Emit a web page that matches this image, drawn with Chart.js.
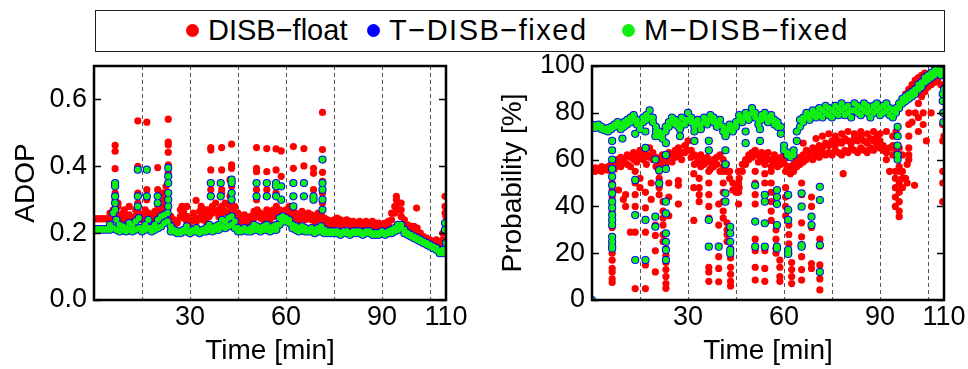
<!DOCTYPE html>
<html><head><meta charset="utf-8">
<script src="https://cdn.jsdelivr.net/npm/chart.js@4.4.1/dist/chart.umd.min.js"></script>
<style>
html,body{margin:0;padding:0;background:#fff;width:968px;height:369px;overflow:hidden;font-family:'Liberation Sans',Arial,sans-serif;}
#legend{position:absolute;left:95px;top:10px;width:850px;height:42px;border:1.5px solid #222;box-sizing:border-box;font-size:29px;color:#000;}
.item{position:absolute;top:0;height:39px;display:flex;align-items:center;white-space:nowrap;}
.dot{width:13px;height:13px;border-radius:50%;margin-right:9px;}
#cL{position:absolute;left:0;top:0;}
#cR{position:absolute;left:480px;top:0;}
</style></head><body>
<div id="legend"></div>
<canvas id="cL" width="480" height="369"></canvas>
<canvas id="cR" width="488" height="369"></canvas>
<script>
// ---------------- DATA ----------------
const seriesNames = ['DISB\u2212float', 'T\u2212DISB\u2212fixed', 'M\u2212DISB\u2212fixed'];
const minutes = [0,1,2,3,4,5,6,7,8,9,10,11,12,13,14,15,16,17,18,19,20,21,22,23,24,25,26,27,28,29,30,31,32,33,34,35,36,37,38,39,40,41,42,43,44,45,46,47,48,49,50,51,52,53,54,55,56,57,58,59,60,61,62,63,64,65,66,67,68,69,70,71,72,73,74,75,76,77,78,79,80,81,82,83,84,85,86,87,88,89,90,91,92,93,94,95,96,97,98,99,100,101,102,103,104,105,106,107,108,109,110];
const gridMinutes = [15,30,45,60,75,90,105];
const xTickLabels = [30,60,90,110];
const adopTicks = [0,0.2,0.4,0.6];
const probTicks = [0,20,40,60,80,100];

// ADOP panel – DISB-float band (two rows, per minute)
const adopFloatBand = [0.243,0.243,0.243,0.243,0.243,0.26,0.27,0.26,0.25,0.26,0.25,0.255,0.245,0.27,0.26,0.255,0.27,0.26,0.25,0.265,0.28,0.29,0.30,0.29,0.25,0.24,0.235,0.27,0.265,0.25,0.24,0.26,0.245,0.265,0.26,0.25,0.27,0.28,0.29,0.27,0.28,0.29,0.285,0.30,0.28,0.26,0.25,0.255,0.245,0.25,0.265,0.27,0.26,0.255,0.27,0.26,0.27,0.28,0.27,0.265,0.27,0.28,0.27,0.26,0.255,0.265,0.255,0.26,0.255,0.25,0.26,0.255,0.245,0.24,0.235,0.24,0.245,0.24,0.235,0.24,0.235,0.235,0.23,0.235,0.23,0.235,0.23,0.235,0.23,0.23,0.225,0.23,0.235,0.26,0.28,0.29,0.27,0.24,0.225,0.22,0.22,0.215,0.2,0.19,0.185,0.18,0.175,0.18,0.165,0.2,0.25];
const adopFloatBand2 = [0.243,0.243,0.243,0.243,0.243,0.245,0.25,0.24,0.235,0.24,0.235,0.24,0.235,0.25,0.245,0.24,0.25,0.245,0.235,0.25,0.26,0.27,0.28,0.27,0.235,0.225,0.23,0.25,0.245,0.235,0.23,0.24,0.235,0.245,0.24,0.235,0.25,0.26,0.265,0.25,0.26,0.265,0.26,0.275,0.26,0.24,0.235,0.24,0.23,0.235,0.245,0.25,0.245,0.24,0.25,0.24,0.25,0.255,0.25,0.26,0.26,0.265,0.25,0.245,0.24,0.245,0.24,0.245,0.24,0.235,0.245,0.24,0.23,0.225,0.225,0.225,0.23,0.225,0.225,0.23,0.225,0.22,0.22,0.225,0.22,0.22,0.22,0.225,0.22,0.215,0.215,0.22,0.225,0.24,0.26,0.27,0.25,0.225,0.21,0.21,0.205,0.2,0.19,0.18,0.175,0.17,0.165,0.165,0.155,0.18,0.22];
// ADOP panel – fixed solutions band (two rows, per minute)
const adopFixedBand = [0.211,0.211,0.211,0.211,0.211,0.225,0.26,0.24,0.225,0.22,0.215,0.23,0.22,0.235,0.245,0.215,0.225,0.24,0.215,0.225,0.24,0.25,0.255,0.26,0.22,0.21,0.205,0.205,0.21,0.22,0.205,0.21,0.215,0.205,0.21,0.215,0.225,0.215,0.22,0.225,0.24,0.235,0.245,0.25,0.235,0.215,0.21,0.215,0.21,0.215,0.225,0.22,0.215,0.22,0.225,0.215,0.22,0.225,0.245,0.25,0.245,0.24,0.225,0.22,0.215,0.22,0.215,0.21,0.215,0.21,0.215,0.22,0.21,0.205,0.205,0.205,0.205,0.2,0.205,0.205,0.2,0.205,0.205,0.205,0.2,0.205,0.205,0.2,0.2,0.2,0.205,0.2,0.205,0.21,0.215,0.225,0.225,0.21,0.2,0.195,0.19,0.185,0.18,0.175,0.17,0.165,0.16,0.155,0.145,0.15,0.17];
const adopFixedBand2 = [0.211,0.211,0.211,0.211,0.211,0.21,0.215,0.21,0.205,0.21,0.205,0.21,0.205,0.21,0.215,0.205,0.21,0.215,0.205,0.21,0.215,0.22,0.23,0.235,0.205,0.205,0.2,0.2,0.205,0.205,0.2,0.205,0.205,0.2,0.205,0.205,0.21,0.205,0.21,0.21,0.22,0.215,0.22,0.225,0.215,0.205,0.205,0.21,0.205,0.205,0.21,0.21,0.205,0.21,0.21,0.205,0.21,0.21,0.225,0.235,0.235,0.23,0.215,0.21,0.205,0.21,0.205,0.205,0.205,0.2,0.205,0.205,0.2,0.2,0.2,0.2,0.2,0.195,0.2,0.2,0.195,0.2,0.2,0.2,0.195,0.2,0.2,0.195,0.195,0.195,0.2,0.195,0.2,0.2,0.205,0.21,0.215,0.2,0.195,0.19,0.185,0.18,0.175,0.17,0.165,0.16,0.155,0.15,0.14,0.14,0.15];
// ADOP panel – isolated epochs [minute, [values]]
const adopFloatSpikes = [[6.6,[0.463,0.445,0.393,0.32,0.30]],[7.5,[0.28,0.29]],[9.5,[0.27]],[11,[0.28]],[13.7,[0.536,0.40,0.32,0.29]],[16.5,[0.532,0.33,0.30]],[19.9,[0.396,0.33,0.31]],[21.5,[0.32]],[22.5,[0.34,0.31]],[23.2,[0.541,0.472,0.464,0.442,0.404,0.38,0.35]],[27.5,[0.28]],[29,[0.28]],[31.9,[0.298]],[33.5,[0.28]],[35,[0.27]],[36.5,[0.456,0.449,0.389,0.33,0.31]],[39.9,[0.456,0.389,0.33,0.32]],[42.5,[0.36,0.31]],[43,[0.466,0.404,0.394,0.34,0.32]],[50.8,[0.456,0.394,0.384,0.33,0.30]],[54,[0.453,0.384,0.33,0.31]],[56.9,[0.452,0.389,0.34,0.32]],[58.5,[0.446,0.37,0.30]],[62.3,[0.459,0.394,0.35,0.31]],[65.6,[0.453,0.401,0.35,0.31]],[68.6,[0.394,0.379,0.33,0.30]],[71.4,[0.561,0.45,0.382,0.355,0.32,0.29]],[94.5,[0.30,0.31]],[96,[0.29]],[100.8,[0.275]],[109.7,[0.31,0.28,0.26]]];
const adopFixedSpikes = [[6.6,[0.35,0.34,0.31,0.29,0.27]],[13.7,[0.39,0.31,0.28]],[16.5,[0.39,0.31]],[19.9,[0.31,0.29]],[23.2,[0.395,0.37,0.35,0.32,0.30,0.28]],[36.5,[0.35,0.31]],[39.6,[0.35,0.31]],[43,[0.36,0.35,0.32,0.30]],[50.8,[0.35,0.31]],[54,[0.35,0.31]],[56.9,[0.35,0.34,0.31]],[58.5,[0.34,0.30]],[62.3,[0.35,0.31,0.28]],[65.6,[0.35,0.31]],[68.6,[0.31,0.30]],[71.4,[0.42,0.35,0.33,0.30,0.27]],[109.7,[0.23,0.21]]];

// Probability panel – bands (per minute)
const probFloatBand = [56,56.5,56,57,56.5,57,58,59,60,61,60,62,61,63,62,64,63,62,65,63,61,60,62,61,63,62,64,65,63,66,68,64,62,61,62,60,61,59,60,61,62,60,58,55,50,48,52,58,60,62,63,64,62,63,61,63,60,62,60,61,62,61,57,58,60,61,62,64,63,65,64,66,65,67,66,68,66,68,67,69,68,67,69,68,70,68,67,69,68,70,68,66,60,55,62,72,82,86,88,90,92,94,95,96,97,95,80];
const probFloatBand2 = [55,55,55.5,55,56,55.5,57,56,58,57,59,58,57,60,59,61,60,58,61,60,57,58,59,58,60,59,61,62,60,63,64,61,58,59,57,58,59,56,57,58,55,57,55,52,47,46,48,55,58,60,61,62,59,60,58,60,57,59,57,58,59,57,54,55,57,58,59,60,61,60,62,61,63,62,63,62,64,63,62,64,63,65,64,63,65,64,63,65,64,66,65,64,63,65,66,64,55,48,52,62,76,80,84,87,89,91,92,93,94,92,70];
const probFixedBand = [75,74.5,75,74,73,73.5,74,75,76,75,76,77,78,79,77,75,78,79,81,78,74,72,71,74,76,78,77,76,78,77,80,78,76,77,75,78,77,79,78,76,77,74,73,75,74,76,79,78,80,79,82,80,77,79,80,78,79,77,76,74,66,63,62,64,72,77,78,80,79,81,80,82,81,83,82,81,83,82,84,82,83,81,84,83,82,84,83,81,83,84,82,83,84,82,81,82,84,86,87,88,89,90,92,93,95,96,97,98,99,98,90];
const probFixedBand2 = [74,73.5,74,73,72.5,72,73,74,74.5,73,74,75,76,77,75,73,76,77,78,76,72,70,69,72,74,76,75,74,75,75,77,76,74,75,73,76,75,77,76,74,75,72,71,73,72,74,77,76,78,77,80,78,75,77,78,76,77,75,74,71,64,62,61,62,68,74,76,78,77,79,78,79,78,80,79,78,80,79,81,79,80,78,81,80,79,81,80,78,80,81,79,80,81,79,78,80,82,84,85,86,87,88,90,91,93,94,95,96,97,96,88];
const probFloatSpikes = [[6.3,[50,47,44,41,38,34,31,27,24,20,17,13.5,12,9,7.5]],[8.3,[47]],[9.8,[43]],[10.5,[45,40]],[12,[29]],[13.5,[55,50,45,40,29,4.9]],[15,[52,48]],[16.7,[46,39.4,29,15,4.9]],[18.5,[50,43]],[19.8,[32,27.6,21,12]],[21,[55,52,48,45]],[22.2,[42,38,35,32,28,25]],[23.1,[22,19,16,13,10,7,5]],[24,[50,44,36]],[27,[51,49,41]],[31.8,[54,48,34]],[33.5,[52,48,45,42]],[36.5,[55,50,45,40,35,14,12,8]],[39.6,[41,32,23,18.5,13.5,7.8]],[41,[55,50,46,42,38,35]],[42.2,[33,30,28,25]],[43.3,[22,18,14,11,8,6]],[45.8,[55,50,46,41]],[51,[55,50,45,41,26,21,14,8.5]],[54,[54,50,45,21,13.5,8]],[56,[55,50,46,42,38,34]],[57.5,[30,26,22,20]],[58.7,[17,14,10,8]],[60.5,[55,48,44,40,36]],[61.5,[32,28,24,20]],[62.4,[16,13,10,7]],[65.5,[50,45,40,33,27,18.5,13,8.5]],[66,[67]],[68.6,[44,40,31,15.6,13.5]],[70,[69]],[71.2,[26,23,15,9,4.3]],[72,[70]],[74,[71]],[76,[70]],[78,[71]],[78.5,[54]],[80,[72]],[82,[71]],[84,[72]],[86,[71]],[88,[72]],[90,[71]],[92,[72]],[94,[70]],[94.8,[55,52,48,44,40]],[96,[65,57,50,46,42,38,35.6]],[97,[62,55,52]],[98.5,[58,50]],[99,[80,75,70,65,60]],[100.8,[49]],[102,[78,72]],[103.5,[80,75]],[104.5,[68]],[109.6,[80,75,68,55,50,42]]];
const probFixedSpikes = [[0,[0]],[6.3,[68,64,60,56,52.7,49,45.6,42,39.4,36.4,34.2,32,27,24.9,22.8,22]],[9.5,[69]],[13.5,[71,51.3,36.3,17.1]],[16.7,[72,65,34.2,17.1]],[19.8,[70,60,35.6,31.3]],[21,[55.5,49.8]],[23.1,[67,62,56,42,37,28.5,24.9,21.4,17.1]],[27.5,[73,70]],[32,[72,68]],[36.5,[68,64,34.2,22.8]],[39.6,[22.8]],[41.7,[70,64,58,45.6,42]],[43.2,[31.3,28.5,24.9,21.4,19.9]],[48,[72,67]],[51,[49,33.5,22.8]],[52.5,[73,68]],[54,[44.9,42,32.8,22.8]],[57.8,[47,44,41,32,22.8,22]],[61.3,[44.9,38.5,34.2,21.4,19.7]],[65.5,[45.6,39.9,23.5,22.8]],[68.6,[35.6,32]],[71.2,[48.4,42.7,23.5,12]],[95.5,[74,70,66,62,60]],[109.6,[88,85]],[109.8,[80,76]]];

// ---------------- STYLE / BUILD ----------------
const FONT = "'Liberation Sans', Arial, Helvetica, sans-serif";
const COLORS = ['#ff0000', '#0000ff', '#11ee11'];
Chart.defaults.font.family = FONT;
Chart.defaults.font.size = 27;
Chart.defaults.color = '#000';

// legend (HTML text); item left edges relative to the legend box
const legendItemLeft = [90, 271, 526];
const legendLetterSpacing = ['0px', '1.5px', '1.5px'];
const lg = document.getElementById('legend');
seriesNames.forEach((n, i) => {
  const it = document.createElement('div'); it.className = 'item';
  it.style.left = legendItemLeft[i] + 'px';
  const d = document.createElement('span'); d.className = 'dot'; d.style.background = COLORS[i];
  const t = document.createElement('span'); t.textContent = n; t.style.letterSpacing = legendLetterSpacing[i];
  it.appendChild(d); it.appendChild(t); lg.appendChild(it);
});

function rows(times, vals) { return vals.map((v, i) => ({x: times[i], y: v})); }
function cols(list) { const out = []; list.forEach(([t, vs]) => vs.forEach(v => out.push({x: t, y: v}))); return out; }

const framePlugin = {
  id: 'frame',
  afterDatasetsDraw(chart) {
    const {ctx, chartArea: a, scales: {y}} = chart;
    ctx.save();
    ctx.strokeStyle = '#000';
    ctx.lineWidth = 1.5;
    y.ticks.forEach(t => {
      const py = Math.round(y.getPixelForValue(t.value)) + 0.5;
      ctx.beginPath(); ctx.moveTo(a.left, py); ctx.lineTo(a.left + 7, py); ctx.stroke();
      ctx.beginPath(); ctx.moveTo(a.right - 7, py); ctx.lineTo(a.right, py); ctx.stroke();
    });
    ctx.lineWidth = 2.5;
    ctx.strokeRect(a.left, a.top, a.right - a.left, a.bottom - a.top);
    ctx.restore();
  }
};

function build(canvasId, o) {
  const fixedData = rows(minutes, o.fixedBand).concat(rows(minutes, o.fixedBand2), cols(o.fixedSpikes));
  const floatData = rows(minutes, o.floatBand).concat(rows(minutes, o.floatBand2), cols(o.floatSpikes));
  return new Chart(document.getElementById(canvasId), {
    type: 'scatter',
    data: {
      datasets: [
        {label: seriesNames[2], data: fixedData, backgroundColor: COLORS[2], pointRadius: 3.1, pointBorderWidth: 0, order: 1},
        {label: seriesNames[1], data: fixedData, backgroundColor: COLORS[1], pointRadius: 4.1, pointBorderWidth: 0, order: 2},
        {label: seriesNames[0], data: floatData, backgroundColor: COLORS[0], pointRadius: 3.6, pointBorderWidth: 0, order: 3}
      ]
    },
    options: {
      responsive: false, animation: false, events: [],
      layout: {padding: o.padding},
      plugins: {legend: {display: false}, tooltip: {enabled: false}},
      scales: {
        x: {
          type: 'linear', min: 0, max: 110,
          afterBuildTicks: s => { s.ticks = [0].concat(gridMinutes, [110]).map(v => ({value: v})); },
          ticks: {autoSkip: false, maxRotation: 0, padding: 1, callback: v => xTickLabels.includes(v) ? String(v) : ''},
          grid: {drawTicks: false, lineWidth: 1, color: c => (c.tick && gridMinutes.includes(c.tick.value)) ? '#555' : 'rgba(0,0,0,0)'},
          border: {display: false, dash: [4, 3]},
          title: {display: true, text: 'Time [min]', font: {size: 28}, padding: {top: 0, bottom: 0}},
          afterFit: s => { s.height = 68; }
        },
        y: {
          min: o.yMin, max: o.yMax,
          afterBuildTicks: s => { s.ticks = o.yTicks.map(v => ({value: v})); },
          ticks: {padding: 7, callback: o.yFmt},
          grid: {display: false, drawTicks: false},
          border: {display: false},
          title: {display: true, text: o.yTitle, font: {size: 28}, padding: {top: 0, bottom: 0}},
          afterFit: s => { s.width = o.yWidth; }
        }
      }
    },
    plugins: [framePlugin]
  });
}

build('cL', {
  fixedBand: adopFixedBand, fixedBand2: adopFixedBand2, fixedSpikes: adopFixedSpikes,
  floatBand: adopFloatBand, floatBand2: adopFloatBand2, floatSpikes: adopFloatSpikes,
  yMin: 0, yMax: 0.7, yTicks: adopTicks, yFmt: v => v.toFixed(1), yTitle: 'ADOP', yWidth: 85,
  padding: {left: 9, right: 34, top: 66, bottom: 1}
});
build('cR', {
  fixedBand: probFixedBand, fixedBand2: probFixedBand2, fixedSpikes: probFixedSpikes,
  floatBand: probFloatBand, floatBand2: probFloatBand2, floatSpikes: probFloatSpikes,
  yMin: 0, yMax: 100, yTicks: probTicks, yFmt: v => String(v), yTitle: 'Probability [%]', yWidth: 96,
  padding: {left: 16, right: 24, top: 66, bottom: 1}
});
</script>
</body></html>
